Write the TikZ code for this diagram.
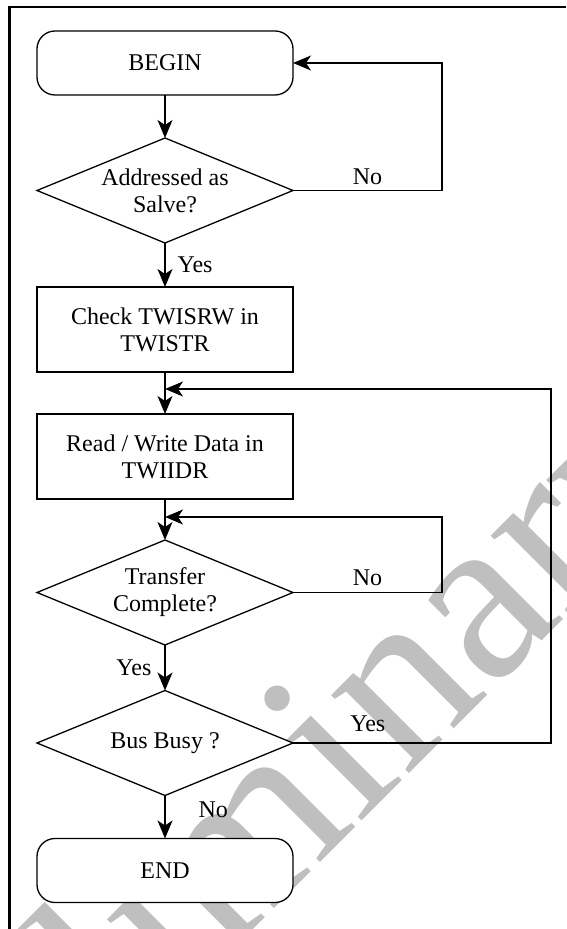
\documentclass[tikz,border=0pt]{standalone}
\usepackage{fontspec}
\setmainfont{Liberation Serif}
\usetikzlibrary{shapes.geometric,arrows.meta}
\begin{document}
\begin{tikzpicture}[x=0.5pt,y=-0.5pt]
\tikzset{
  txt/.style={font=\fontsize{12}{13.5}\selectfont},
  shapebase/.style={draw, line width=0.65pt, fill=white, txt, align=center, inner sep=0pt, outer sep=0pt},
  term/.style={shapebase, rectangle, rounded corners=9pt, minimum width=128pt, minimum height=32pt},
  proc/.style={shapebase, rectangle, minimum width=128pt, minimum height=42.5pt},
  dec/.style={shapebase, diamond, minimum width=128pt, minimum height=52.5pt},
  lbl/.style={txt, inner sep=0pt},
  flow/.style={line width=0.65pt},
  arr/.style={flow, -{Stealth[length=9pt,width=7.5pt,inset=2.5pt]}},
  frameline/.style={line width=1.1pt},
  wm/.style={text=black!25, font=\fontsize{120}{120}\selectfont, inner sep=0pt}
}
\useasboundingbox (0,0) rectangle (566,929);
\begin{scope}
\clip (0,0) rectangle (566,929);
\node[wm, rotate=45] (wmk) at (266,836) {Preliminary};
\end{scope}
% frame
\coordinate (fa) at (9.5,929);
\coordinate (fb) at (9.5,7);
\coordinate (fc) at (566,7);
\draw[frameline] (fa) -- (fb) -- (fc);
% nodes
\node[term] (start) at (165,63) {BEGIN};
\node[dec, label={[lbl,align=center]center:Addressed as\\Salve?}] (d1) at (165,190.5) {};
\node[proc] (r1) at (165,329.5) {Check TWISRW in\\TWISTR};
\node[proc] (r2) at (165,456.5) {Read / Write Data in\\TWIIDR};
\node[dec, label={[lbl,align=center]center:Transfer\\Complete?}] (d2) at (165,592.5) {};
\node[dec, label={[lbl,align=center]center:Bus Busy ?}] (d3) at (165,743) {};
\node[term] (stop) at (165,870.5) {END};
% helper coordinates
\coordinate (n1a) at (442,190.5);
\coordinate (n1b) at (442,63);
\coordinate (j1) at (165,389);
\coordinate (y3a) at (551,743);
\coordinate (y3b) at (551,389);
\coordinate (j2) at (165,517);
\coordinate (n2a) at (442,592.5);
\coordinate (n2b) at (442,517);
% connectors
\draw[arr] (start.south) -- (d1.north);
\draw[arr] (d1.east) -- node[lbl, above=2.75pt]{No} (n1a) -- (n1b) -- (start.east);
\draw[arr] (d1.south) -- node[lbl, right=6pt]{Yes} (r1.north);
\draw[arr] (r1.south) -- (r2.north);
\draw[arr] (d3.east) -- node[lbl, above=5.5pt, pos=0.29]{Yes} (y3a) -- (y3b) -- (j1);
\draw[arr] (r2.south) -- (d2.north);
\draw[arr] (d2.east) -- node[lbl, above=3pt]{No} (n2a) -- (n2b) -- (j2);
\draw[arr] (d2.south) -- node[lbl, left=6.5pt]{Yes} (d3.north);
\draw[arr] (d3.south) -- node[lbl, right=16.5pt, pos=0.33]{No} (stop.north);
\end{tikzpicture}
\end{document}
